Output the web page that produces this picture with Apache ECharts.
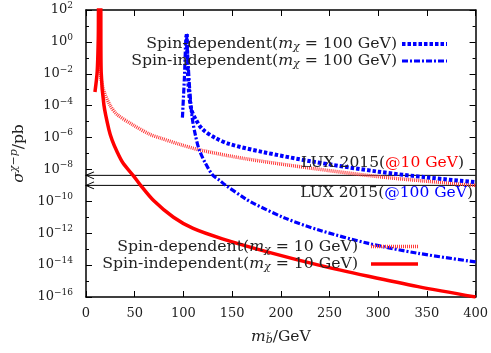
<!DOCTYPE html>
<html><head><meta charset="utf-8">
<script src="https://cdn.jsdelivr.net/npm/echarts@6/dist/echarts.min.js"></script>
<style>html,body{margin:0;padding:0;background:#fff}#c{width:491px;height:353px}</style>
</head><body><div id="c"></div>
<script>
const FONT = 'DejaVu Serif';
// x: sbottom mass m_b~ (GeV); y: log10(sigma / pb)
const siRed10X = [9.2, 11.5, 12.6, 13.2, 14.9, 15.6, 18.4, 23.5, 26.8, 31.9, 38, 48.3, 55.1, 69.4, 89.8, 110, 140, 188, 239, 290, 341, 400];
const siRed10Y = [-3.14, -1.87, 0.2, 2.5, 2.5, -1.9, -3.96, -5.5, -6.16, -6.89, -7.6, -8.37, -8.92, -9.95, -11.0, -11.7, -12.35, -13.2, -14.0, -14.7, -15.35, -16.0];
const sdRed10X = [14.2, 15.5, 18.4, 24.5, 31.9, 48, 65.6, 75.8, 95.9, 117, 164, 232, 300, 350, 400];
const sdRed10Y = [-1.5, -2.3, -3.1, -3.95, -4.55, -5.2, -5.8, -6.02, -6.42, -6.78, -7.33, -7.93, -8.45, -8.74, -9.0];
const sdBlue100X = [103.5, 105, 108, 113, 120, 133, 147, 181, 232, 300, 350, 400];
const sdBlue100Y = [0.5, -2.5, -4.2, -4.9, -5.5, -6.03, -6.4, -6.9, -7.5, -8.14, -8.5, -8.8];
const siBlue100X = [99, 101, 103, 104.5, 106.5, 109, 112.5, 116.3, 122.5, 130, 137, 143.6, 164, 171, 205, 239, 290, 341, 400];
const siBlue100Y = [-4.75, -2.3, 0.5, -1.0, -3.0, -4.75, -5.9, -6.78, -7.6, -8.35, -8.68, -9.0, -9.85, -10.1, -11.07, -11.8, -12.64, -13.26, -13.8];
const luxX = [0, 400];
const luxLimits = [-8.37, -9.0];   // log10 sigma, @10 GeV and @100 GeV
const xTickStep = 50;
const yTickStep = 2;

const chart = echarts.init(document.getElementById('c'), null, {renderer: 'canvas'});

function pairs(xs, ys) { return xs.map((x, i) => [x, ys[i]]); }
function curve(name, xs, ys, color, width, type, z) {
  return {type: 'line', name, data: pairs(xs, ys), symbol: 'none', showSymbol: false,
    smooth: 0.3,
    lineStyle: {color, width, type, cap: 'butt', join: 'round'}, silent: true, animation: false, z, clip: true};
}
const ARROW = 'path://M10,0L0,5L10,10';
function luxLine(v) {
  return {type: 'line', data: [
      {value: [luxX[0], v], symbol: ARROW, symbolSize: [8, 7], symbolOffset: [4, 0]},
      {value: [luxX[1], v], symbol: 'none'}],
    showSymbol: true, showAllSymbol: true,
    itemStyle: {color: 'rgba(0,0,0,0)', borderColor: '#000', borderWidth: 1},
    lineStyle: {color: '#000', width: 1}, silent: true, animation: false, z: 1, clip: true};
}

const TXT = '#222';
const FS = 15.7;
const RICH = {
  n: {fontSize: FS, fontFamily: FONT, fill: TXT},
  i: {fontSize: FS, fontFamily: FONT, fontStyle: 'italic', fill: TXT},
  sub: {fontSize: 11, fontFamily: FONT, fontStyle: 'italic', fill: TXT, padding: [7, 0, 0, 0]},
  r: {fontSize: 15.5, fontFamily: FONT, fill: '#ff0000'},
  b: {fontSize: 15.5, fontFamily: FONT, fill: '#0000ff'},
  l: {fontSize: 15.5, fontFamily: FONT, fill: TXT}
};
function gtext(x, y, text) {
  return {type: 'text', x, y, silent: true, z: 10,
    style: {text, rich: RICH, align: 'right', verticalAlign: 'middle', fill: TXT, fontFamily: FONT, fontSize: FS}};
}
function gline(x1, x2, y, stroke, lineWidth, lineDash) {
  return {type: 'line', silent: true, z: 10, shape: {x1, y1: y, x2, y2: y},
    style: {stroke, lineWidth, lineDash: lineDash || null, lineCap: 'butt'}};
}

const axisLineStyle = {show: true, onZero: false, lineStyle: {color: '#000', width: 1.5}};
const tickStyle = {show: true, inside: true, length: 6, lineStyle: {color: '#000', width: 1}};
const labelRich = {
  b: {fontSize: 13, fontFamily: FONT, color: TXT},
  s: {fontSize: 9, fontFamily: FONT, color: TXT, padding: [0, 0, 9, 0]}
};

chart.setOption({
  animation: false,
  backgroundColor: '#fff',
  grid: {left: 86, right: 13, top: 10, bottom: 56, containLabel: false},
  xAxis: [{
    type: 'value', min: 0, max: 400, interval: xTickStep, position: 'bottom',
    axisLine: axisLineStyle, axisTick: tickStyle, splitLine: {show: false},
    axisLabel: {margin: 10, color: TXT, fontFamily: FONT, fontSize: 13},
    name: '{i|m}{sub|b\u0303}{n|/GeV}', nameLocation: 'middle', nameGap: 31,
    nameTextStyle: {rich: {
      i: {fontSize: 15.5, fontFamily: FONT, fontStyle: 'italic', color: TXT},
      sub: {fontSize: 11, fontFamily: FONT, fontStyle: 'italic', color: TXT, padding: [7, 0, 0, 0]},
      n: {fontSize: 15.5, fontFamily: FONT, color: TXT}}}
  }, {
    type: 'value', min: 0, max: 400, interval: xTickStep, position: 'top',
    axisLine: axisLineStyle, axisTick: tickStyle, axisLabel: {show: false}, splitLine: {show: false}
  }],
  yAxis: [{
    type: 'value', min: -16, max: 2, interval: yTickStep, position: 'left',
    axisLine: axisLineStyle, axisTick: tickStyle,
    minorTick: {show: true, splitNumber: 2, length: 3, lineStyle: {color: '#000', width: 1}},
    splitLine: {show: false}, minorSplitLine: {show: false},
    axisLabel: {margin: 13, rich: labelRich,
      formatter: v => { const n = Math.round(v); return '{b|10}{s|' + (n < 0 ? '\u2212' + (-n) : n) + '}'; }},
    name: '{i|\u03c3}{s|\u03c7\u2212p}{n|/pb}', nameLocation: 'middle', nameRotate: 90, nameGap: 57,
    nameTextStyle: {rich: {
      i: {fontSize: 15.5, fontFamily: FONT, fontStyle: 'italic', color: TXT},
      s: {fontSize: 11, fontFamily: FONT, fontStyle: 'italic', color: TXT, padding: [0, 0, 9, 0]},
      n: {fontSize: 15.5, fontFamily: FONT, color: TXT}}}
  }, {
    type: 'value', min: -16, max: 2, interval: yTickStep, position: 'right',
    axisLine: axisLineStyle, axisTick: tickStyle,
    minorTick: {show: true, splitNumber: 2, length: 3, lineStyle: {color: '#000', width: 1}},
    axisLabel: {show: false}, splitLine: {show: false}, minorSplitLine: {show: false}
  }],
  series: [
    luxLine(luxLimits[0]),
    luxLine(luxLimits[1]),
    curve('SD 10', sdRed10X, sdRed10Y, '#ff3b3b', 3.5, [1, 1], 2),
    curve('SD 100', sdBlue100X, sdBlue100Y, '#0000ff', 4, [3.5, 2], 3),
    curve('SI 100', siBlue100X, siBlue100Y, '#0000ff', 3.2, [6, 2, 2, 2], 4),
    curve('SI 10', siRed10X, siRed10Y, '#ff0000', 3.5, 'solid', 5)
  ],
  graphic: [
    gtext(397, 44, '{n|Spin-dependent(}{i|m}{sub|\u03c7}{n| = 100 GeV)}'),
    gline(402, 447, 44, '#0000ff', 4, [3.5, 2]),
    gtext(397, 61, '{n|Spin-independent(}{i|m}{sub|\u03c7}{n| = 100 GeV)}'),
    gline(402, 447, 61, '#0000ff', 3.2, [6, 2, 2, 2]),
    gtext(358, 246.5, '{n|Spin-dependent(}{i|m}{sub|\u03c7}{n| = 10 GeV)}'),
    gline(371, 418, 246.5, '#ff3b3b', 3.5, [1, 1]),
    gtext(358, 264, '{n|Spin-independent(}{i|m}{sub|\u03c7}{n| = 10 GeV)}'),
    gline(371, 418, 264, '#ff0000', 3.5, null),
    gtext(464, 163, '{l|LUX 2015(}{r|@10 GeV}{l|)}'),
    gtext(473, 193, '{l|LUX 2015(}{b|@100 GeV}{l|)}')
  ]
});
</script></body></html>
